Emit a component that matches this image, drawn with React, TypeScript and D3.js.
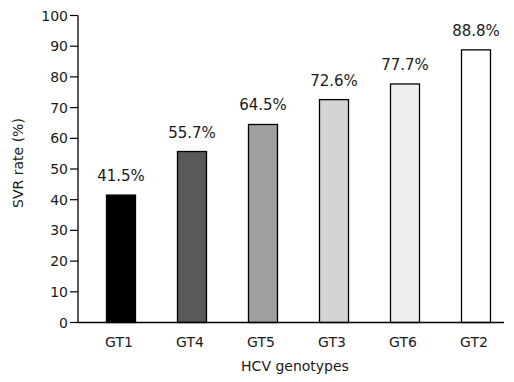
import React from "react";
import * as d3 from "d3";

const categories = ["GT1", "GT4", "GT5", "GT3", "GT6", "GT2"];
const values = [41.5, 55.7, 64.5, 72.6, 77.7, 88.8];
const fills = ["#000000", "#595959", "#a0a0a0", "#d4d4d4", "#efefef", "#ffffff"];
const yTicks = [0, 10, 20, 30, 40, 50, 60, 70, 80, 90, 100];

const W = 514;
const H = 382;
const x0 = 78;
const x1 = 504;
const yTop = 15.5;
const yBot = 322.5;
const FONT = "Verdana, 'DejaVu Sans', sans-serif";

export default function App() {
  const y = d3.scaleLinear().domain([0, 100]).range([yBot, yTop]);
  const x = d3.scalePoint<string>().domain(categories).range([121, 476]);
  const barW = 29;
  return (
    <svg width={W} height={H} style={{ position: "absolute", left: 0, top: 0 }} fontFamily={FONT}>
      <rect width={W} height={H} fill="#fff" />
      {categories.map((c, i) => (
        <rect
          key={c}
          x={(x(c) as number) - barW / 2}
          y={y(values[i])}
          width={barW}
          height={yBot - y(values[i])}
          fill={fills[i]}
          stroke="#000"
          strokeWidth={1.3}
        />
      ))}
      {categories.map((c, i) => (
        <text key={c + "v"} x={(x(c) as number)} y={y(values[i]) - 14} textAnchor="middle" fontSize={15} fill="#1a1a1a">
          {values[i].toFixed(1)}%
        </text>
      ))}
      <line x1={x0} x2={x0} y1={yTop} y2={yBot} stroke="#000" strokeWidth={1.3} />
      <line x1={x0} x2={x1} y1={yBot} y2={yBot} stroke="#000" strokeWidth={1.3} />
      {yTicks.map((t) => (
        <g key={t}>
          <line x1={x0 - 8} x2={x0} y1={y(t)} y2={y(t)} stroke="#000" strokeWidth={1.2} />
          <text x={x0 - 10} y={y(t)} dy="0.36em" textAnchor="end" fontSize={14} fill="#1a1a1a">
            {t}
          </text>
        </g>
      ))}
      {categories.map((c) => (
        <text key={c + "l"} x={(x(c) as number) - 2} y={347} textAnchor="middle" fontSize={14} fill="#1a1a1a">
          {c}
        </text>
      ))}
      <text x={295} y={371} textAnchor="middle" fontSize={14} fill="#1a1a1a">
        HCV genotypes
      </text>
      <text transform={`translate(23,163) rotate(-90)`} textAnchor="middle" fontSize={14} fill="#1a1a1a">
        SVR rate (%)
      </text>
    </svg>
  );
}
